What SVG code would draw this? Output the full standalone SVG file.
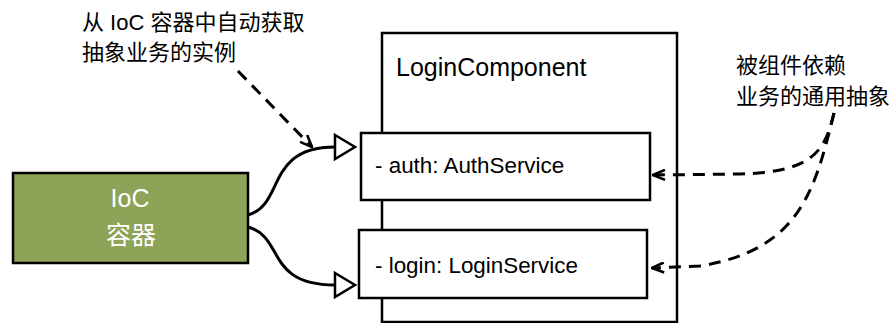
<svg xmlns="http://www.w3.org/2000/svg" width="896" height="323" viewBox="0 0 896 323">
  <style>
    text { font-family: "Liberation Sans", "Noto Sans CJK SC", sans-serif; fill: #000; }
    .note { font-size: 22px; }
    .title { font-size: 25px; }
    .member { font-size: 22.4px; }
    .ioc-label { font-size: 25px; fill: #fff; text-anchor: middle; }
    .box { fill: #fff; stroke: #000; stroke-width: 2.5; }
    .ioc { fill: #8DA357; stroke: #000; stroke-width: 2.5; }
    .inject { fill: none; stroke: #000; stroke-width: 3; }
    .hollow { fill: #fff; stroke: #000; stroke-width: 2.5; stroke-linejoin: miter; }
    .dashed { fill: none; stroke: #000; stroke-width: 3; stroke-dasharray: 12 8; marker-end: url(#open-arrow); }
  </style>
  <defs>
    <marker id="open-arrow" viewBox="0 0 14 12" refX="13" refY="6" markerWidth="14" markerHeight="12" markerUnits="userSpaceOnUse" orient="auto">
      <path d="M1,1 L13,6 L1,11" fill="none" stroke="#000" stroke-width="2.6" stroke-dasharray="none"/>
    </marker>
  </defs>

  <!-- annotations -->
  <g id="note-left">
    <text class="note" x="82" y="30">从 IoC 容器中自动获取</text>
    <text class="note" x="82" y="60">抽象业务的实例</text>
  </g>
  <g id="note-right">
    <text class="note" x="736" y="73">被组件依赖</text>
    <text class="note" x="736" y="104">业务的通用抽象</text>
  </g>

  <!-- component container -->
  <g id="login-component">
    <rect class="box" x="382" y="33" width="295" height="289"/>
    <text class="title" x="396" y="76">LoginComponent</text>
  </g>

  <g id="auth-field">
    <rect class="box" x="361" y="133" width="289" height="67"/>
    <text class="member" x="375" y="173">- auth: AuthService</text>
  </g>

  <g id="login-field">
    <rect class="box" x="359" y="230" width="288" height="68"/>
    <text class="member" x="375" y="273">- login: LoginService</text>
  </g>

  <g id="ioc-container">
    <rect class="ioc" x="13" y="173" width="235" height="90"/>
    <text class="ioc-label" x="130" y="207">IoC</text>
    <text class="ioc-label" x="131" y="244">容器</text>
  </g>

  <!-- connectors -->
  <g id="connectors">
    <path class="inject" d="M248,215 C285,205 265,147 335,147"/>
    <path class="inject" d="M248,227 C285,237 265,285 335,285"/>
    <polygon class="hollow" points="335,135 355,147 335,159"/>
    <polygon class="hollow" points="335,273 355,285 335,297"/>

    <path class="dashed" d="M238,71 L312,147"/>

    <path class="dashed" d="M834,113 C825,150 815,172 740,174 L653,175"/>
    <path class="dashed" d="M834,113 C815,190 800,250 700,266 L652,268"/>
  </g>
</svg>
